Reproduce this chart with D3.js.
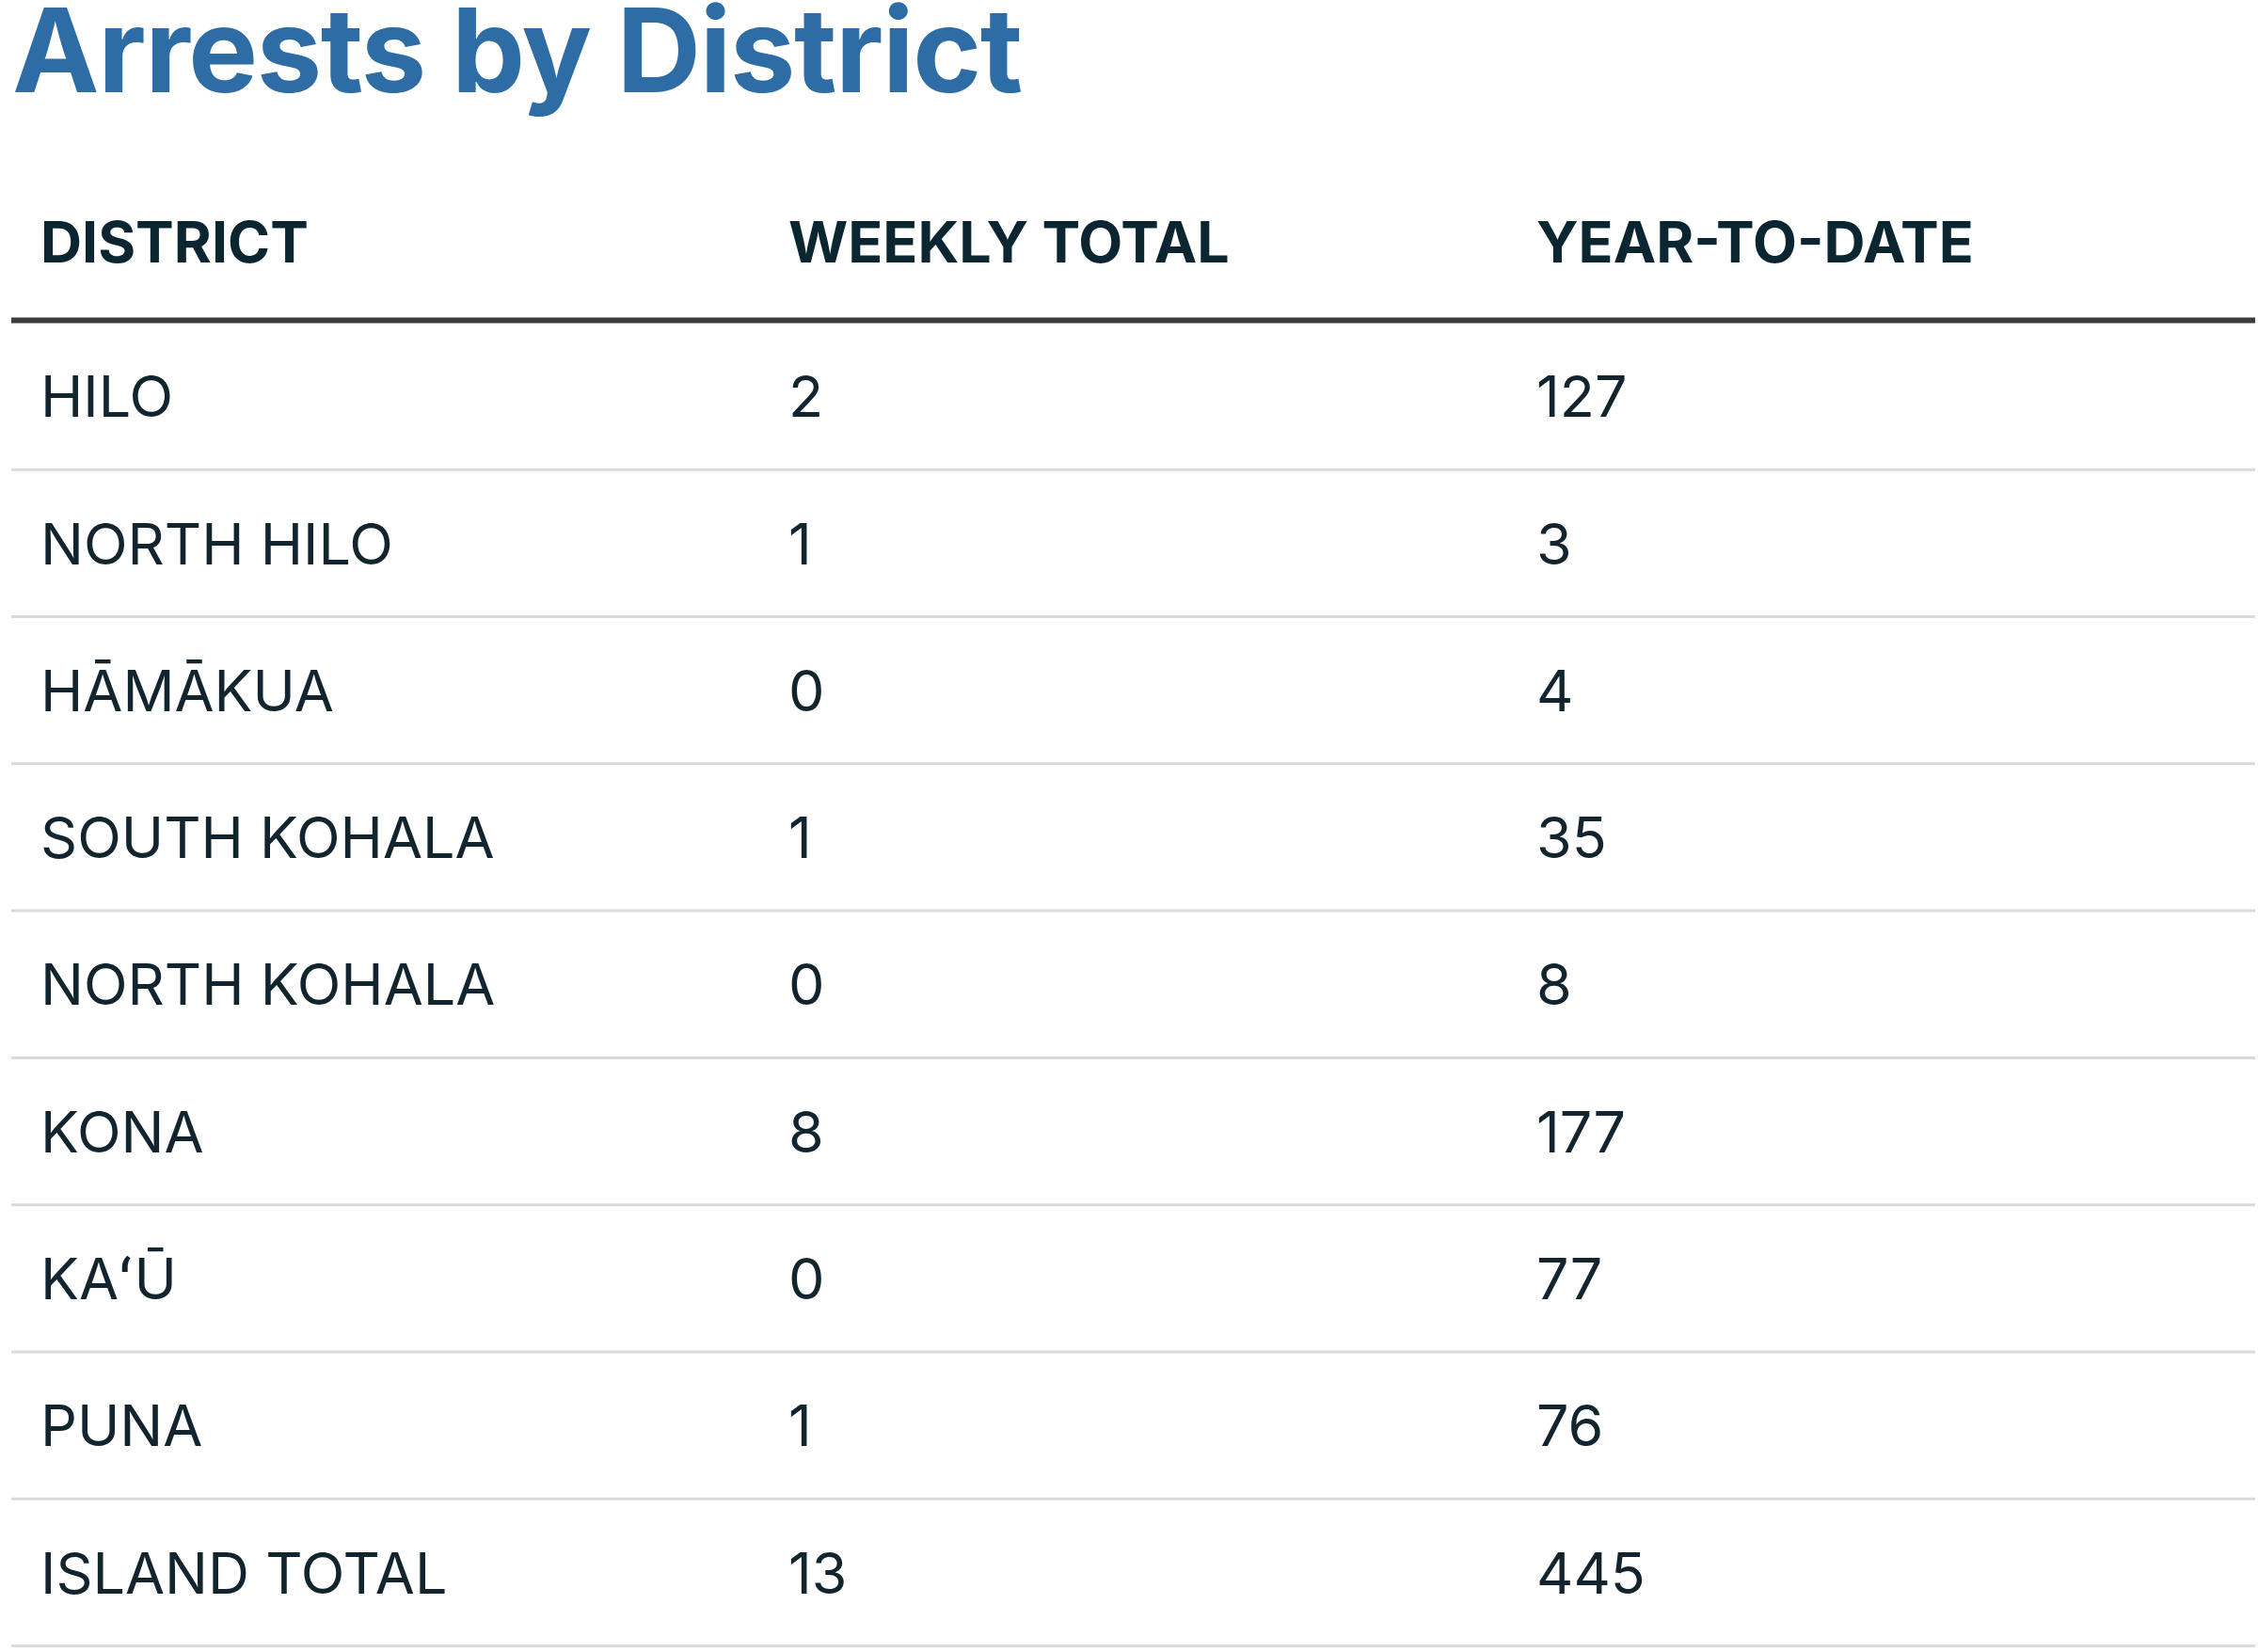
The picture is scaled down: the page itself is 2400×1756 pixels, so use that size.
<!DOCTYPE html>
<html>
<head>
<meta charset="utf-8">
<script src="https://cdn.jsdelivr.net/npm/d3@7"></script>
<style>
  html, body { margin: 0; padding: 0; background: #fff; }
  text { font-family: Inter, "Noto Sans", sans-serif; }
</style>
</head>
<body>
<svg id="vis"></svg>
<script>
// values
const title = "Arrests by District";
const headers = ["DISTRICT", "WEEKLY TOTAL", "YEAR-TO-DATE"];
const districts = ["HILO", "NORTH HILO", "HĀMĀKUA", "SOUTH KOHALA", "NORTH KOHALA", "KONA", "KAʻŪ", "PUNA", "ISLAND TOTAL"];
const weekly = [2, 1, 0, 1, 0, 8, 0, 1, 13];
const ytd = [127, 3, 4, 35, 8, 177, 77, 76, 445];

function main()
{
    const width = 2400;
    const height = 1756;

    // table box
    const table = {left: 12, right: 2397, headLine: 340.5, bottom: 1749.5};
    const padLeft = 31;
    const bodySize = 61;
    const headSize = 61;

    let svg = d3.select('#vis')
        .attr('width', width)
        .attr('height', height);

    let rows = districts.map((d, i) => [d, weekly[i], ytd[i]]);

    // three equal columns
    let xScale = d3.scaleBand()
        .domain(headers)
        .range([table.left, table.right]);

    let yScale = d3.scaleBand()
        .domain(d3.range(rows.length))
        .range([table.headLine + 2.5, table.bottom]);

    svg.append('text')
        .attr('x', 13)
        .attr('y', 98)
        .attr('font-size', 124)
        .attr('font-weight', 700)
        .attr('letter-spacing', -1.4)
        .attr('fill', '#2e6ca6')
        .text(title);

    svg.append('g')
        .selectAll('text')
        .data(headers)
        .enter()
        .append('text')
        .attr('x', d => xScale(d) + padLeft)
        .attr('y', 279)
        .attr('font-size', headSize)
        .attr('font-weight', 700)
        .attr('fill', '#0b2631')
        .text(d => d);

    svg.append('line')
        .attr('x1', table.left)
        .attr('x2', table.right)
        .attr('y1', table.headLine)
        .attr('y2', table.headLine)
        .attr('stroke', '#3d3d3d')
        .attr('stroke-width', 6);

    let rowG = svg.append('g')
        .selectAll('g')
        .data(rows)
        .enter()
        .append('g')
        .attr('transform', (d, i) => 'translate(0,' + yScale(i) + ')');

    rowG.append('line')
        .attr('x1', table.left)
        .attr('x2', table.right)
        .attr('y1', yScale.bandwidth())
        .attr('y2', yScale.bandwidth())
        .attr('stroke', '#dadada')
        .attr('stroke-width', 3);

    rowG.selectAll('text')
        .data(d => d)
        .enter()
        .append('text')
        .attr('x', (d, j) => xScale(headers[j]) + padLeft)
        .attr('y', yScale.bandwidth() / 2 + bodySize * 0.727 / 2)
        .attr('font-size', bodySize)
        .attr('font-weight', 400)
        .attr('fill', '#12252e')
        .text(d => d);
}
main();
</script>
</body>
</html>
